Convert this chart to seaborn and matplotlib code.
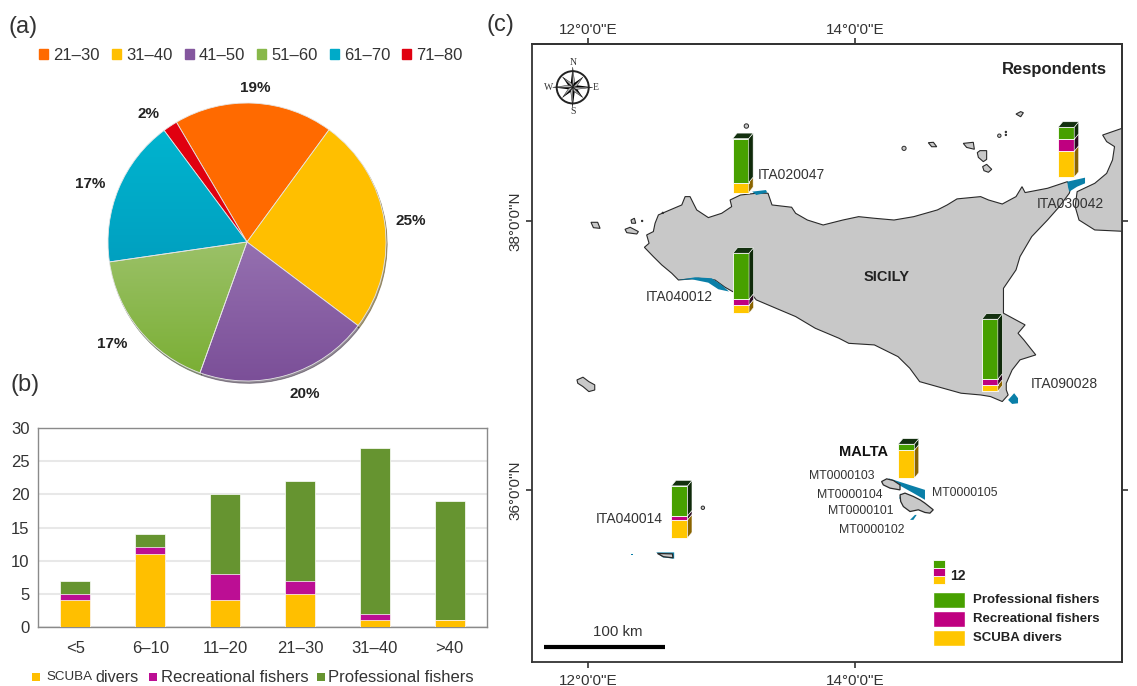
import numpy as np
import pandas as pd
import matplotlib
matplotlib.use("Agg")
import matplotlib.pyplot as plt
from matplotlib.colors import LinearSegmentedColormap
from matplotlib.patches import Circle, Rectangle, Patch
import seaborn as sns

sns.set_theme(style="white")
plt.rcParams["font.family"] = ["Liberation Sans", "DejaVu Sans"]

W, H = 1137, 686
TEXT = "#333333"

# (a) age classes
age_labels = ["21–30", "31–40", "41–50", "51–60", "61–70", "71–80"]
age_share = [18.5, 25.2, 20.2, 17.2, 17.1, 1.7]
age_pct = ["19%", "25%", "20%", "17%", "17%", "2%"]
age_colors = ["#FF6A00", "#FFBF00", "#84579E", "#88B84A", "#00AAC8", "#E00010"]
age_grad_top = [None, None, "#9570B0", "#9BC168", "#00B4CF", None]
age_grad_bottom = [None, None, "#7B4F98", "#7BAF35", "#00A0C0", None]
age_label_x = [0.058, 1.180, 0.417, -0.971, -1.129, -0.712]
age_label_y = [1.108, 0.151, -1.094, -0.734, 0.417, 0.921]

# (b) years of experience
year_classes = ["<5", "6–10", "11–20", "21–30", "31–40", ">40"]
year_scuba = [4, 11, 4, 5, 1, 1]
year_rec = [1, 1, 4, 2, 1, 0]
year_prof = [2, 2, 12, 15, 25, 18]

# (c) sites
site_lon = [13.083, 15.522, 13.086, 14.950, 14.324, 12.625]
site_lat = [38.211, 38.325, 37.314, 36.734, 36.087, 35.643]
site_prof = [22, 6, 23, 30, 3, 15]
site_rec = [0, 6, 3, 3, 0, 2]
site_scuba = [5, 13, 4, 3, 14, 9]

sicily_lon = [12.614, 12.702, 12.727, 12.764, 12.789, 12.814, 12.901, 13.001, 13.076, 13.064, 13.142, 13.260,
              13.348, 13.378, 13.525, 13.555, 13.643, 13.761, 13.909, 14.027, 14.145, 14.292, 14.440, 14.617,
              14.690, 14.764, 14.941, 15.000, 15.103, 15.206, 15.251, 15.274, 15.442, 15.590, 15.619, 15.605,
              15.531, 15.442, 15.324, 15.236, 15.206, 15.112, 15.112, 15.274, 15.221, 15.265, 15.324, 15.354,
              15.236, 15.177, 15.133, 15.133, 15.147, 15.103, 15.015, 14.941, 14.794, 14.617, 14.484, 14.410,
              14.322, 14.145, 13.953, 13.879, 13.702, 13.555, 13.407, 13.260, 13.230, 13.083, 13.026, 12.951,
              12.826, 12.677, 12.627, 12.552, 12.489, 12.422, 12.457, 12.439, 12.489, 12.502, 12.527]
sicily_lat = [38.082, 38.119, 38.181, 38.181, 38.131, 38.082, 38.025, 38.057, 38.107, 38.156, 38.193, 38.206,
              38.206, 38.119, 38.102, 38.057, 38.007, 37.970, 38.007, 38.032, 38.020, 38.007, 38.032, 38.082,
              38.119, 38.164, 38.181, 38.156, 38.126, 38.181, 38.255, 38.211, 38.243, 38.292, 38.255, 38.206,
              38.107, 38.007, 37.884, 37.735, 37.636, 37.499, 37.314, 37.227, 37.165, 37.115, 37.041, 37.004,
              36.967, 36.892, 36.793, 36.744, 36.706, 36.657, 36.694, 36.706, 36.719, 36.768, 36.805, 36.905,
              36.991, 37.078, 37.090, 37.128, 37.202, 37.289, 37.351, 37.413, 37.450, 37.475, 37.507, 37.561,
              37.574, 37.561, 37.611, 37.673, 37.735, 37.804, 37.834, 37.896, 37.921, 37.983, 38.045]
calabria_lon = [16.05, 15.855, 15.885, 15.944, 15.929, 15.885, 15.796, 15.664, 15.649, 15.678, 15.796, 16.05]
calabria_lat = [38.706, 38.639, 38.590, 38.553, 38.454, 38.354, 38.280, 38.218, 38.107, 38.007, 37.933, 37.921]
pantelleria_lon = [11.917, 11.962, 12.006, 12.050, 12.050, 12.006, 11.962, 11.923]
pantelleria_lat = [36.818, 36.838, 36.805, 36.781, 36.743, 36.731, 36.768, 36.793]
island_shapes = [
    ([12.022, 12.072, 12.090, 12.040], [37.990, 37.990, 37.945, 37.950]),
    ([12.277, 12.315, 12.377, 12.365, 12.290], [37.938, 37.953, 37.921, 37.903, 37.913]),
    ([12.322, 12.347, 12.357, 12.327], [38.007, 38.020, 37.983, 37.983]),
    ([14.549, 14.587, 14.612, 14.574], [38.582, 38.585, 38.552, 38.552]),
    ([14.811, 14.886, 14.894, 14.836], [38.577, 38.585, 38.533, 38.547]),
    ([14.916, 14.936, 14.986, 14.986, 14.961, 14.924], [38.508, 38.523, 38.523, 38.458, 38.441, 38.473]),
    ([14.956, 14.986, 15.024, 14.999, 14.966], [38.404, 38.421, 38.384, 38.362, 38.374]),
    ([15.206, 15.241, 15.261, 15.241], [38.795, 38.813, 38.805, 38.775]),
]
gozo_lon = [14.199, 14.237, 14.287, 14.337, 14.337, 14.262, 14.212]
gozo_lat = [36.062, 36.082, 36.070, 36.037, 36.000, 36.013, 36.037]
malta_lon = [14.337, 14.374, 14.437, 14.487, 14.524, 14.586, 14.561, 14.524, 14.474, 14.412, 14.362, 14.342]
malta_lat = [35.963, 35.976, 35.951, 35.926, 35.901, 35.852, 35.827, 35.832, 35.852, 35.839, 35.876, 35.914]
lampedusa_lon = [12.520, 12.632, 12.636, 12.565]
lampedusa_lat = [35.527, 35.524, 35.495, 35.503]

islet_lon = [13.186, 14.367, 15.081, 15.130, 15.130, 12.860, 12.405, 12.560]
islet_lat = [38.706, 38.540, 38.634, 38.662, 38.640, 35.867, 38.000, 38.060]
islet_size = [10, 9, 6, 1, 1, 6, 1, 1]

mpa_shapes = [
    ([12.672, 12.801, 12.926, 13.001, 13.056, 12.976, 12.901, 12.777],
     [37.561, 37.581, 37.574, 37.524, 37.475, 37.492, 37.541, 37.566]),
    ([13.230, 13.333, 13.342, 13.260], [38.218, 38.230, 38.211, 38.193]),
    ([15.590, 15.723, 15.723, 15.664, 15.605, 15.596], [38.292, 38.322, 38.280, 38.255, 38.218, 38.250]),
    ([15.147, 15.192, 15.221, 15.221, 15.177], [36.669, 36.719, 36.682, 36.644, 36.639]),
    ([14.249, 14.524, 14.524, 14.437, 14.349], [36.087, 36.000, 35.926, 35.976, 36.025]),
    ([14.412, 14.449, 14.462, 14.437], [35.777, 35.814, 35.814, 35.777]),
    ([14.332, 14.349, 14.342], [35.938, 35.913, 35.976]),
    ([12.510, 12.645, 12.645, 12.560], [35.535, 35.535, 35.488, 35.498]),
    ([12.325, 12.340, 12.340, 12.325], [35.523, 35.523, 35.513, 35.513]),
]

map_labels = ["ITA020047", "ITA030042", "ITA040012", "ITA090028", "ITA040014"]
map_label_lon = [13.268, 15.611, 12.687, 15.566, 12.310]
map_label_lat = [38.342, 38.126, 37.432, 36.786, 35.784]
mt_labels = ["MT0000103", "MT0000104", "MT0000101", "MT0000102", "MT0000105"]
mt_label_lon = [13.903, 13.959, 14.041, 14.127, 14.823]
mt_label_lat = [36.102, 35.965, 35.846, 35.703, 35.975]

fig = plt.figure(figsize=(W / 100, H / 100), dpi=100)


def px_axes(left, top, right, bottom):
    return fig.add_axes([left / W, 1 - bottom / H, (right - left) / W, (bottom - top) / H])


def fig_text(x, y, s, **kw):
    kw.setdefault("color", TEXT)
    kw.setdefault("va", "center")
    fig.text(x / W, 1 - y / H, s, **kw)


def fig_square(x, y, size, color):
    fig.add_artist(Rectangle((x / W, 1 - (y + size / 2) / H), size / W, size / H,
                             transform=fig.transFigure, color=color, lw=0))


fig_text(9, 27, "(a)", fontsize=17)
fig_text(10, 385, "(b)", fontsize=17)
fig_text(487, 25, "(c)", fontsize=17)

# pie
ax_pie = px_axes(247 - 195, 242 - 195, 247 + 195, 242 + 195)
wedges, _ = ax_pie.pie(age_share, colors=age_colors, startangle=120.5, counterclock=False, radius=1,
                       wedgeprops={"edgecolor": "#E6E6E6", "linewidth": 0.6},
                       shadow={"ox": 0.006, "oy": -0.012, "shade": 0.7})
ramp = np.linspace(0, 1, 200).reshape(-1, 1)
for w, top, bottom in zip(wedges, age_grad_top, age_grad_bottom):
    if top is None:
        continue
    bb = w.get_path().transformed(w.get_patch_transform()).get_extents()
    cmap = LinearSegmentedColormap.from_list("wedge", [top, bottom])
    img = ax_pie.imshow(ramp, cmap=cmap, extent=(bb.x0, bb.x1, bb.y0, bb.y1), aspect="auto", zorder=2)
    w.set_facecolor("none")
    w.set_zorder(3)
    img.set_clip_path(w)
ax_pie.set_aspect("equal")
ax_pie.set_xlim(-1.403, 1.403)
ax_pie.set_ylim(-1.403, 1.403)
for x, y, pct in zip(age_label_x, age_label_y, age_pct):
    ax_pie.text(x, y, pct, ha="center", va="center", fontsize=11, fontweight="bold", color="#222222", zorder=6)
ax_pie.axis("off")

fig.legend(handles=[Patch(color=c, label=l) for c, l in zip(age_colors, age_labels)],
           loc="center", bbox_to_anchor=(251 / W, 1 - 55 / H), ncol=6, frameon=False, fontsize=12,
           handlelength=0.55, handleheight=0.55, handletextpad=0.3, columnspacing=0.72,
           labelcolor=TEXT, borderpad=0)

# stacked bars, tallest layer first
ax_bar = px_axes(38, 428, 487, 627)
df = pd.DataFrame({"years": year_classes, "scuba": year_scuba, "rec": year_rec, "prof": year_prof})
df["scuba_top"] = df["scuba"]
df["rec_top"] = df["scuba"] + df["rec"]
df["prof_top"] = df["rec_top"] + df["prof"]
for col, color in [("prof_top", "#669430"), ("rec_top", "#BC0E94"), ("scuba_top", "#FFBF00")]:
    sns.barplot(data=df, x="years", y=col, color=color, saturation=1, width=0.4, ax=ax_bar,
                edgecolor="white", linewidth=0.5, zorder=3)
ax_bar.set_ylim(0, 30)
ax_bar.set_xlim(-0.5, 5.5)
ax_bar.set_yticks(range(0, 31, 5))
ax_bar.set_xlabel("")
ax_bar.set_ylabel("")
ax_bar.grid(axis="y", color="#E8E8E8", lw=1.5, zorder=0)
ax_bar.set_axisbelow(True)
ax_bar.tick_params(axis="both", labelsize=12, labelcolor=TEXT, length=0)
ax_bar.tick_params(axis="x", pad=10)
ax_bar.tick_params(axis="y", pad=6)
for s in ax_bar.spines.values():
    s.set_color("#8A8A8A")
    s.set_linewidth(1.0)

fig_square(32, 677, 8, "#FFBF00")
fig_square(149, 677, 8, "#BC0E94")
fig_square(317, 677, 8, "#669430")
fig_text(46, 677, "SCUBA", fontsize=9.6)
fig_text(95, 677, "divers", fontsize=11.6)
fig_text(161, 677, "Recreational fishers", fontsize=12)
fig_text(328, 677, "Professional fishers", fontsize=12)

# map
ax_map = px_axes(532, 44, 1122, 662)
ax_map.set_xlim(11.58, 16.0)
ax_map.set_ylim(34.72, 39.316)
LAND = "#C8C8C8"
COAST = "#2A2A2A"
MPA = "#0A7FA8"
for lon, lat in [(sicily_lon, sicily_lat), (calabria_lon, calabria_lat), (pantelleria_lon, pantelleria_lat)]:
    ax_map.fill(lon, lat, fc=LAND, ec=COAST, lw=0.8, zorder=2)
for lon, lat in island_shapes:
    ax_map.fill(lon, lat, fc=LAND, ec=COAST, lw=0.8, zorder=2)
for lon, lat in mpa_shapes:
    ax_map.fill(lon, lat, fc=MPA, ec="none", zorder=3)
for lon, lat in [(gozo_lon, gozo_lat), (malta_lon, malta_lat), (lampedusa_lon, lampedusa_lat)]:
    ax_map.fill(lon, lat, fc=LAND, ec=COAST, lw=0.9, zorder=4)
ax_map.scatter(islet_lon, islet_lat, s=islet_size, c=LAND, edgecolors=COAST, linewidths=0.7, zorder=2)

# pseudo 3d columns, about 2 px per respondent
lat_per_resp = 2 / 134.5
bar_w = 16 / 133.5
dx = 4.5 / 133.5
dy = 5.5 / 134.5
for lon, lat, p, r, s in zip(site_lon, site_lat, site_prof, site_rec, site_scuba):
    bottom = lat
    for val, front, side in [(s, "#FFC600", "#8A6400"), (r, "#BF0080", "#2A0A20"), (p, "#47A000", "#0F2A0A")]:
        if val == 0:
            continue
        h = val * lat_per_resp
        ax_map.bar(lon, h, bottom=bottom, width=bar_w, align="edge", color=front, edgecolor="white",
                   linewidth=0.6, zorder=6)
        ax_map.fill([lon + bar_w, lon + bar_w + dx, lon + bar_w + dx, lon + bar_w],
                    [bottom, bottom + dy, bottom + h + dy, bottom + h], fc=side, ec="white", lw=0.4, zorder=6)
        bottom += h
    ax_map.fill([lon, lon + dx, lon + bar_w + dx, lon + bar_w],
                [bottom, bottom + dy, bottom + dy, bottom], fc="#13300F", ec="white", lw=0.4, zorder=6)

for name, lon, lat in zip(map_labels, map_label_lon, map_label_lat):
    ha = "left" if name == "ITA020047" else "center"
    ax_map.text(lon, lat, name, fontsize=10, color=TEXT, ha=ha, va="center", zorder=7)
for name, lon, lat in zip(mt_labels, mt_label_lon, mt_label_lat):
    ax_map.text(lon, lat, name, fontsize=8.8, color=TEXT, ha="center", va="center", zorder=7)
ax_map.text(14.233, 37.586, "SICILY", fontsize=10.5, fontweight="bold", color="#222222", ha="center", va="center")
ax_map.text(14.065, 36.283, "MALTA", fontsize=10.5, fontweight="bold", color="#111111", ha="center", va="center")
ax_map.text(15.493, 39.130, "Respondents", fontsize=12, fontweight="bold", color="#222222", ha="center", va="center")

# scale bar
ax_map.plot([11.67, 12.58], [34.83, 34.83], color="black", lw=3, solid_capstyle="butt")
ax_map.text(12.221, 34.94, "100 km", fontsize=10.8, color=TEXT, ha="center", va="center")

# legend inside the map
key_base = 35.30
for val, color in zip([4, 4, 4], ["#FFC600", "#BF0080", "#47A000"]):
    ax_map.bar(14.587, val * lat_per_resp, bottom=key_base, width=0.0885, align="edge", color=color,
               edgecolor="white", linewidth=0.6)
    key_base += val * lat_per_resp
ax_map.text(14.770, 35.361, "12", fontsize=10, fontweight="bold", color="#222222", ha="center", va="center")
for name, color, lat in [("Professional fishers", "#47A000", 35.123), ("Recreational fishers", "#BF0080", 34.984),
                         ("SCUBA divers", "#FFC600", 34.842)]:
    ax_map.bar(14.581, 0.116, bottom=lat, width=0.245, align="edge", color=color)
    ax_map.text(14.882, lat + 0.058, name, fontsize=9.5, fontweight="bold", color="#222222", va="center")

# compass
c_lon, c_lat, c_r = 11.885, 38.994, 0.15
ang = np.deg2rad(np.arange(0, 360, 45) + 90)
for i, a in enumerate(ang):
    long_arm = 1.0 if i % 2 == 0 else 0.72
    tip_x = c_lon + long_arm * c_r * np.cos(a)
    tip_y = c_lat + long_arm * c_r * np.sin(a)
    ax_map.fill([c_lon, tip_x, c_lon + 0.2 * c_r * np.cos(a + 0.55)],
                [c_lat, tip_y, c_lat + 0.2 * c_r * np.sin(a + 0.55)], fc="black", ec="none", zorder=5)
    ax_map.fill([c_lon, tip_x, c_lon + 0.2 * c_r * np.cos(a - 0.55)],
                [c_lat, tip_y, c_lat + 0.2 * c_r * np.sin(a - 0.55)], fc="#BBBBBB", ec="black", lw=0.3, zorder=5)
ax_map.add_patch(Circle((c_lon, c_lat), 0.12, fill=False, ec="#222222", lw=1.4, zorder=5))
for letter, lon, lat in [("N", 11.885, 39.175), ("S", 11.885, 38.815), ("W", 11.705, 38.994), ("E", 12.06, 38.994)]:
    ax_map.text(lon, lat, letter, fontsize=7, family="Liberation Serif", color="#333333", ha="center", va="center")

tick_style = dict(direction="out", length=4, width=1.2, color="#333333", labelsize=11, labelcolor=TEXT)
ax_map.set_xticks([12, 14])
ax_map.set_xticklabels(["12°0'0\"E", "14°0'0\"E"])
ax_map.set_yticks([36, 38])
ax_map.set_yticklabels(["36°0'0\"N", "38°0'0\"N"], rotation=90, va="center")
ax_map.tick_params(axis="x", pad=4.5, bottom=True, **tick_style)
ax_map.tick_params(axis="y", pad=3, left=True, **tick_style)

top_axis = ax_map.secondary_xaxis("top")
top_axis.set_xticks([12, 14])
top_axis.set_xticklabels(["12°0'0\"E", "14°0'0\"E"])
top_axis.tick_params(axis="x", pad=1, top=True, **tick_style)
right_axis = ax_map.secondary_yaxis("right")
right_axis.set_yticks([36, 38])
right_axis.set_yticklabels(["36°0'0\"N", "38°0'0\"N"], rotation=270, va="center")
right_axis.tick_params(axis="y", pad=5, right=True, **tick_style)
for s in list(ax_map.spines.values()) + [top_axis.spines["top"], right_axis.spines["right"]]:
    s.set_color("#333333")
    s.set_linewidth(1.3)

fig.savefig("out.png", dpi=100)
